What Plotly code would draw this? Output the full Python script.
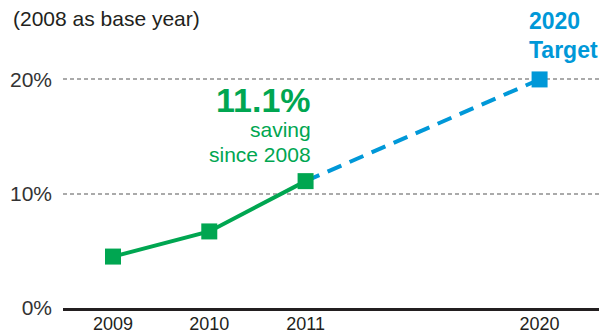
import plotly.graph_objects as go

# Energy saving relative to 2008 (%)
years = [2009, 2010, 2011]
saving = [4.5, 6.7, 11.1]
target_year = 2020
target_saving = 20.0
y_ticks = [0, 10, 20]
y_tick_labels = ["0%", "10%", "20%"]

GREEN = "#00a651"
BLUE = "#0098d8"
TEXT = "#231f20"

# Compressed year axis: consecutive years one slot apart, with a
# shortened gap before the target year.
GAP_TO_TARGET = 2.43
slot = {y: i for i, y in enumerate(years)}
slot[target_year] = slot[years[-1]] + GAP_TO_TARGET
tick_years = years + [target_year]

fig = go.Figure()

# Projection to target (dashed), drawn underneath the actuals
fig.add_trace(go.Scatter(
    x=[slot[years[-1]], slot[target_year]],
    y=[saving[-1], target_saving],
    mode="lines",
    line=dict(color=BLUE, width=4, dash="15px,9px"),
    hoverinfo="skip",
))
fig.add_trace(go.Scatter(
    x=[slot[target_year]], y=[target_saving],
    mode="markers",
    marker=dict(symbol="square", size=16, color=BLUE),
))

# Actual savings
fig.add_trace(go.Scatter(
    x=[slot[y] for y in years], y=saving,
    mode="lines+markers",
    line=dict(color=GREEN, width=4),
    marker=dict(symbol="square", size=16, color=GREEN),
))

x2011 = slot[years[-1]]
x2020 = slot[target_year]

annotations = [
    dict(x=x2011, y=18.2, text=f"<b>{saving[-1]:.1f}%</b>", xanchor="right",
         yanchor="middle", xshift=7, font=dict(size=34, color=GREEN)),
    dict(x=x2011, y=15.65, text="saving", xanchor="right", yanchor="middle",
         xshift=7, font=dict(size=21, color=GREEN)),
    dict(x=x2011, y=13.45, text="since 2008", xanchor="right", yanchor="middle",
         xshift=7, font=dict(size=21, color=GREEN)),
    dict(x=x2020, y=25.1, text=f"<b>{target_year}</b>", xanchor="left",
         yanchor="middle", xshift=-13, font=dict(size=23, color=BLUE)),
    dict(x=x2020, y=22.6, text="<b>Target</b>", xanchor="left",
         yanchor="middle", xshift=-13, font=dict(size=23, color=BLUE)),
]
for a in annotations:
    a.update(xref="x", yref="y", showarrow=False)

fig.update_layout(
    width=616, height=336,
    margin=dict(l=63, r=17, t=20, b=28, autoexpand=False),
    paper_bgcolor="white", plot_bgcolor="white",
    showlegend=False,
    font=dict(family="Liberation Sans, Arial, sans-serif", color=TEXT),
    title=dict(text="(2008 as base year)", x=13 / 616, xanchor="left",
               xref="container", y=1 - 18.5 / 336, yanchor="middle",
               yref="container", automargin=False,
               font=dict(size=21, color=TEXT)),
    annotations=annotations,
    xaxis=dict(
        range=[-0.519, 5.047],
        tickmode="array",
        tickvals=[slot[y] for y in tick_years],
        ticktext=[str(y) for y in tick_years],
        tickfont=dict(size=18, color=TEXT),
        showgrid=False, zeroline=False,
        showline=True, linecolor=TEXT, linewidth=3,
        ticks="", ticklabelstandoff=-3,
        automargin=False,
        fixedrange=True,
    ),
    yaxis=dict(
        range=[0, 25.2],
        tickmode="array",
        tickvals=y_ticks,
        ticktext=y_tick_labels,
        tickfont=dict(size=21, color="#333333"),
        showgrid=True, gridcolor="#aaaaaa", gridwidth=1.5,
        griddash="4px,3px",
        zeroline=False, showline=False,
        ticks="", ticklabelstandoff=10,
        automargin=False,
        fixedrange=True,
    ),
)

fig.write_html("out.html", config={"displayModeBar": False})
